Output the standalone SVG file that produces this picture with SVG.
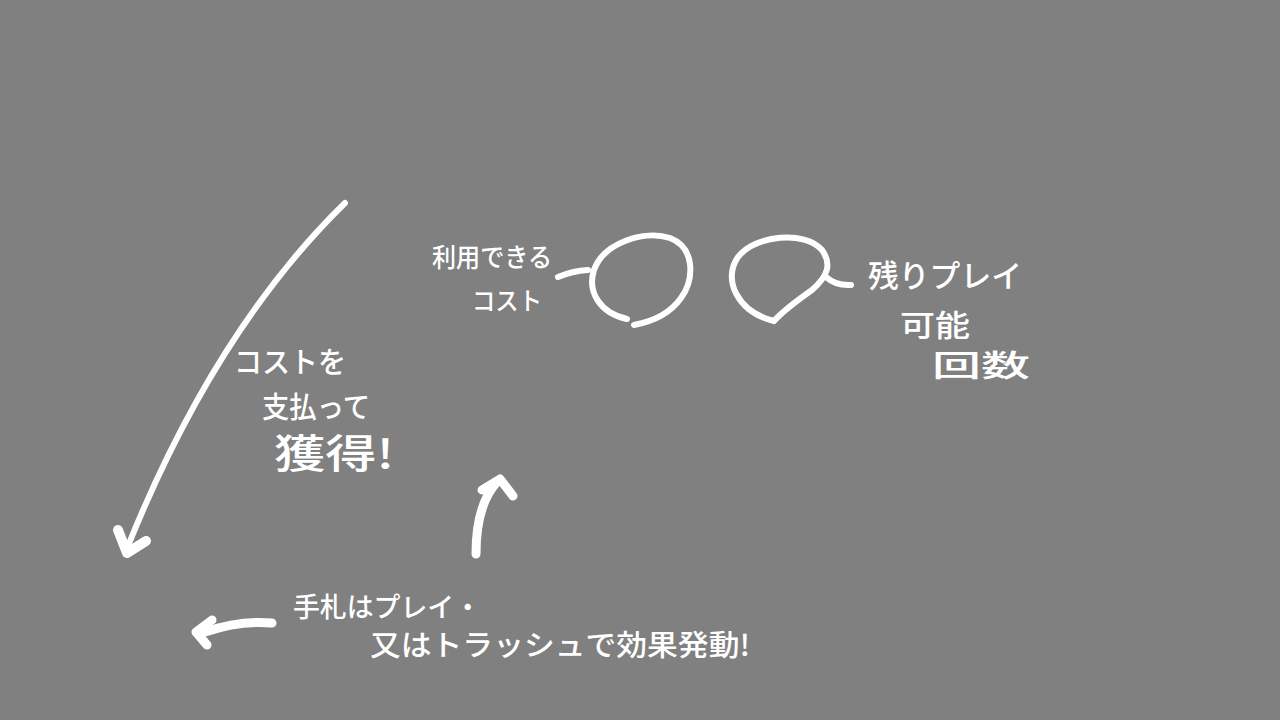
<svg xmlns="http://www.w3.org/2000/svg" width="1280" height="720" viewBox="0 0 1280 720">
<style>
.t{font-family:"Noto Sans CJK JP","Noto Sans CJK SC",sans-serif;fill:#fff;font-weight:500}
.s{fill:none;stroke:#fff;stroke-linecap:round;stroke-linejoin:round}
</style>
<rect width="1280" height="720" fill="#808080"/>
<g id="connectors">
<path class="s" stroke-width="6" d="M345,203 Q215,330 128,546"/>
<path class="s" stroke-width="10" d="M118,530 L127,553 L146,541"/>
<path class="s" stroke-width="9" d="M476,554 Q476,505 497,482"/>
<path class="s" stroke-width="9" d="M482,490 L500,479 L513,496"/>
<path class="s" stroke-width="9" d="M272,623 Q240,620 205,632"/>
<path class="s" stroke-width="9" d="M212,620 L196,632 L207,645"/>
</g>
<g id="cost-circle">
<path class="s" stroke-width="6" d="M627,319 C600,313 587,292 594,270 C604,242 645,230 670,238 C696,248 694,280 681,298 C669,315 650,322 634,325"/>
<path class="s" stroke-width="6" d="M558,277 Q572,271 588,270"/>
</g>
<g id="play-circle">
<path class="s" stroke-width="6" d="M774,321 C738,312 722,280 738,257 C755,235 805,230 822,250 C832,264 828,276 812,290 C795,302 782,312 774,321"/>
<path class="s" stroke-width="6" d="M826,277 Q836,286 851,285"/>
</g>
<g id="label-cost">
<text class="t" x="432" y="267" font-size="26" textLength="120" lengthAdjust="spacingAndGlyphs">利用できる</text>
<text class="t" x="472" y="310" font-size="25" textLength="70" lengthAdjust="spacingAndGlyphs">コスト</text>
</g>
<g id="label-play">
<text class="t" x="868" y="287" font-size="31" textLength="154" lengthAdjust="spacingAndGlyphs">残りプレイ</text>
<text class="t" x="900" y="336" font-size="30" textLength="70" lengthAdjust="spacingAndGlyphs">可能</text>
<text class="t" x="932" y="376" font-size="30" textLength="98" lengthAdjust="spacingAndGlyphs">回数</text>
</g>
<g id="label-pay">
<text class="t" x="234" y="373" font-size="29" textLength="112" lengthAdjust="spacingAndGlyphs">コストを</text>
<text class="t" x="262" y="418" font-size="29" textLength="108" lengthAdjust="spacingAndGlyphs">支払って</text>
<text class="t" x="274" y="468" font-size="40" textLength="120" lengthAdjust="spacingAndGlyphs">獲得!</text>
</g>
<g id="label-hand">
<text class="t" x="293" y="617" font-size="27" textLength="188" lengthAdjust="spacingAndGlyphs">手札はプレイ・</text>
<text class="t" x="370" y="656" font-size="29" textLength="380" lengthAdjust="spacingAndGlyphs">又はトラッシュで効果発動!</text>
</g>
</svg>
